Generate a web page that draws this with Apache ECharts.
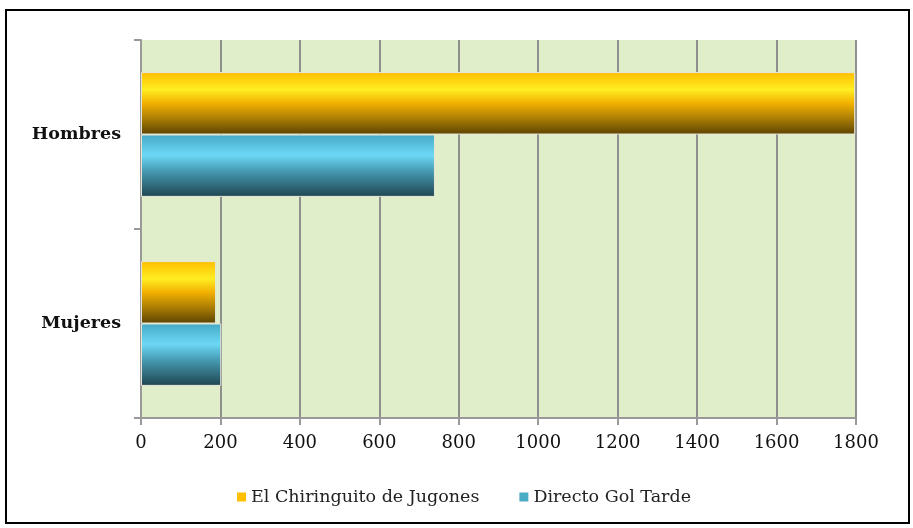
<!DOCTYPE html>
<html><head><meta charset="utf-8">
<script src="https://cdn.jsdelivr.net/npm/echarts@6/dist/echarts.min.js"></script>
<style>html,body{margin:0;padding:0;background:#fff}#c{width:913px;height:528px}</style>
</head><body><div id="c"></div>
<script>
const categories = ['Hombres', 'Mujeres'];
const seriesNames = ['El Chiringuito de Jugones', 'Directo Gol Tarde'];
const chiringuito = [1798, 189];
const golTarde = [740, 202];
const xTicks = [0, 200, 400, 600, 800, 1000, 1200, 1400, 1600, 1800];
const legendColors = ['#FFC000', '#4BACC6'];

const font = '"DejaVu Serif", "Liberation Serif", serif';
const orangeGrad = new echarts.graphic.LinearGradient(0, 0, 0, 1, [
  {offset: 0, color: '#FFBE00'}, {offset: 0.28, color: '#FFEE22'},
  {offset: 0.5, color: '#F2B000'}, {offset: 0.75, color: '#A97C05'}, {offset: 1, color: '#5C4300'}]);
const blueGrad = new echarts.graphic.LinearGradient(0, 0, 0, 1, [
  {offset: 0, color: '#45A9C4'}, {offset: 0.33, color: '#6CD8F6'},
  {offset: 0.6, color: '#4497AE'}, {offset: 1, color: '#1F4550'}]);

const chart = echarts.init(document.getElementById('c'));
chart.setOption({
  animation: false,
  backgroundColor: '#fff',
  graphic: [{type: 'rect', shape: {x: 6, y: 10, width: 903, height: 513},
    style: {fill: 'none', stroke: '#000', lineWidth: 2}, z: 100, silent: true}],
  grid: {left: 141, right: 57, top: 40, bottom: 110, show: true, backgroundColor: '#E0EEC9', borderWidth: 0},
  legend: {data: seriesNames.map((n, i) => ({name: n, itemStyle: {color: legendColors[i], borderWidth: 0}})),
    bottom: 17, left: 232, itemWidth: 9, itemHeight: 9, itemGap: 40,
    icon: 'rect', textStyle: {fontFamily: font, fontSize: 17.5, color: '#222'}},
  xAxis: {type: 'value', min: xTicks[0], max: xTicks[xTicks.length - 1], interval: 200,
    axisLine: {show: true, lineStyle: {color: '#999', width: 2}},
    axisTick: {show: true, length: 7, lineStyle: {color: '#999', width: 2}},
    splitLine: {show: true, lineStyle: {color: '#8f8f8f', width: 2}},
    axisLabel: {fontFamily: font, fontSize: 18, color: '#111', margin: 16, formatter: v => String(v)}},
  yAxis: {type: 'category', data: categories, inverse: true,
    axisLine: {show: true, lineStyle: {color: '#999', width: 2}},
    axisTick: {show: true, length: 7, lineStyle: {color: '#999', width: 2}},
    axisLabel: {fontFamily: font, fontSize: 17.5, fontWeight: 'bold', color: '#111', margin: 20}},
  series: [
    {name: seriesNames[0], type: 'bar', data: chiringuito, barGap: '0%', barCategoryGap: '34%',
      itemStyle: {color: orangeGrad, borderColor: '#e6e6d8', borderWidth: 1}},
    {name: seriesNames[1], type: 'bar', data: golTarde,
      itemStyle: {color: blueGrad, borderColor: '#e6e6d8', borderWidth: 1}}
  ]
});
</script></body></html>
